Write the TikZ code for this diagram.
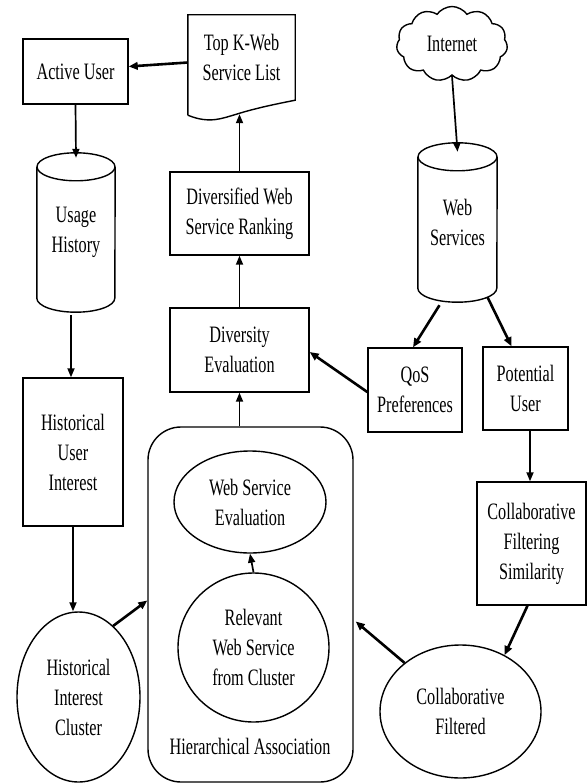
\documentclass[tikz,border=0pt]{standalone}
\usepackage{fontspec}
\setmainfont{Liberation Serif}[FakeStretch=0.69]
\usetikzlibrary{arrows.meta,calc,shapes.geometric,shapes.symbols}
\tikzset{
  box/.style={rectangle,draw,line width=1.4pt,align=center,inner sep=0pt},
  oval/.style={ellipse,draw,line width=1.4pt,align=center,inner sep=0pt},
  plain/.style={rectangle,align=center,inner sep=0pt},
  flow/.style={-{Triangle[length=9pt,width=7pt]},line width=1.7pt},
  bold/.style={-{Triangle[length=9pt,width=7.5pt]},line width=2.6pt}
}
% -- cylinder drawn round a plain node: #1 node, #2 x radius, #3 y radius
\newcommand{\drawcyl}[3]{%
  \draw[line width=1.4pt] ($(#1.north)+(0,#3)$) ellipse [x radius=#2, y radius=#3];
  \draw[line width=1.4pt] ($(#1.north west)+(0,#3)$) -- ($(#1.south west)+(0,-#3)$)
    arc [start angle=180, end angle=0, x radius=#2, y radius=#3]
    -- ($(#1.north east)+(0,#3)$);
}

\begin{document}
\begin{tikzpicture}[x=1pt,y=-1pt,font=\fontsize{23.5}{30}\selectfont]
    \useasboundingbox (0,0) rectangle (587,783);
    %
    % -- Left column: user side
    \node[box, minimum width=105, minimum height=65] (active) at (75.5,71.5) {Active User};
    \node[plain, minimum width=78, minimum height=159] (usage) at (76,232.5) {Usage\\History};
    \node[box, minimum width=100, minimum height=148] (histint) at (73,452) {Historical\\User\\Interest};
    \node[oval, minimum width=123, minimum height=170] (hiclus) at (78.5,697) {Historical\\Interest\\Cluster};

    % -- Middle column: ranking chain
    \node[plain, minimum width=107, minimum height=85] (topk) at (241.5,57.5) {Top K-Web\\Service List};
    \node[box, minimum width=139, minimum height=83] (dwsr) at (239.5,213.5) {Diversified Web\\Service Ranking};
    \node[box, minimum width=139, minimum height=84] (divev) at (239.5,350) {Diversity\\Evaluation};

    % -- Hierarchical association block
    \node[box, rounded corners=33pt, minimum width=205, minimum height=355] (hierassoc) at (250.5,604.5) {};
    \node[oval, minimum width=152, minimum height=102] (wseval) at (250,502) {Web Service\\Evaluation};
    \node[oval, minimum width=151, minimum height=149] (relevant) at (253.5,647.5) {Relevant\\Web Service\\from Cluster};
    \node[plain] (halabel) at (250,746) {Hierarchical Association};

    % -- Right column: web side
    \node[cloud, draw, line width=1.4pt, cloud puffs=11, cloud puff arc=110, cloud ignores aspect,
          minimum width=111, minimum height=75, inner sep=0pt] (internet) at (452,44) {Internet};
    \node[plain, minimum width=79, minimum height=159] (webserv) at (457.5,222.5) {Web\\Services};
    \node[box, minimum width=94, minimum height=84] (qos) at (415,390) {QoS\\Preferences};
    \node[box, minimum width=85, minimum height=83] (potuser) at (525.5,388.5) {Potential\\User};
    \node[box, minimum width=109, minimum height=123] (collsim) at (531.5,543.5) {Collaborative\\Filtering\\Similarity};
    \node[oval, minimum width=161, minimum height=133] (collfilt) at (460.5,711.5) {Collaborative\\Filtered};

    % -- Outlines of the cylinders and the document
    \drawcyl{usage}{39}{14}
    \drawcyl{webserv}{39.5}{14}
    \draw[line width=1.4pt] ($(topk.south west)+(0,15)$) -- (topk.north west) -- (topk.north east)
      -- (topk.south east) .. controls +(-20,4) and +(19,-6) .. ($(topk.south)+(-5,14)$)
      .. controls +(-14,4) and +(22,9) .. ($(topk.south west)+(0,15)$);
    \coordinate (topkwave) at ($(topk.south)+(-5,14)$);
    \coordinate (pufoot) at ($(potuser.south)+(4.5,0)$);

    % -- Connectors
    \draw[bold] ($(topk.west)+(0,5)$) -- ($(active.east)+(0,-5)$);
    \draw[flow] (active.south) -- ($(usage.north)+(0,5)$);
    \draw[flow] ($(usage.south)+(-5,3)$) -- ($(histint.north)+(-2,0)$);
    \draw[flow] (histint.south) -- (histint.south |- hiclus.north);
    \draw[bold] (hiclus.64) -- ($(hierassoc.west)+(0,-4)$);
    \draw[flow] (divev.south |- hierassoc.north) -- (divev.south);
    \draw[flow] (divev.north) -- (dwsr.south);
    \draw[flow] (dwsr.north) -- (dwsr.north |- topkwave);
    \draw[flow] (relevant.north) -- (wseval.south);
    \draw[flow] (internet.south) -- ($(webserv.north)+(0,9)$);
    \draw[bold] ($(webserv.south)+(-18,3)$) -- ($(qos.north)+(-2,0)$);
    \draw[bold] ($(webserv.south)+(30,-5)$) -- ($(potuser.north)+(-14,0)$);
    \draw[bold] ($(qos.west)+(0,2)$) -- ($(divev.east)+(0,2)$);
    \draw[flow] (pufoot) -- (pufoot |- collsim.north);
    \draw[bold] ($(collsim.south)+(-4,0)$) -- (collfilt.52);
    \draw[bold] (collfilt.139) -- ($(hierassoc.east)+(2,17)$);
\end{tikzpicture}
\end{document}
